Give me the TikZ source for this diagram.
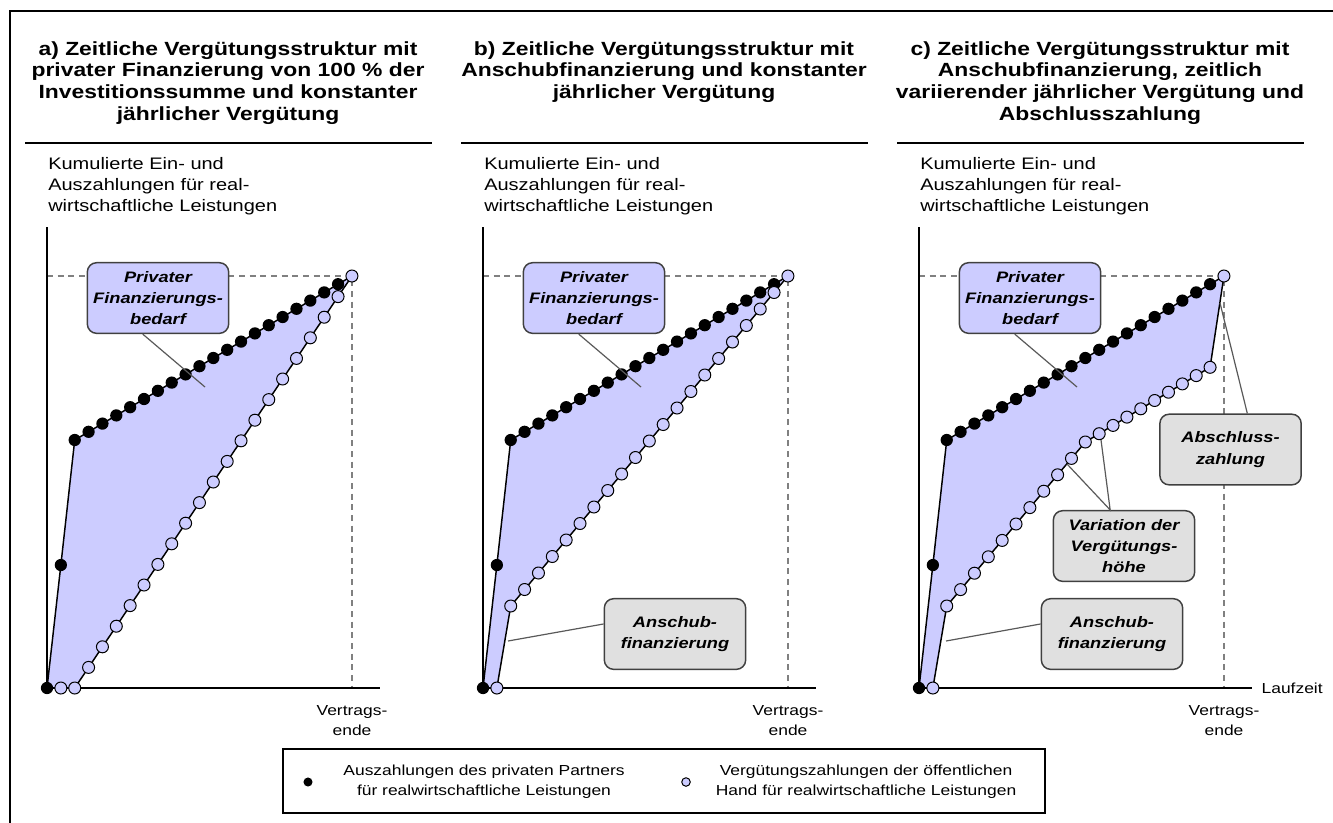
\documentclass[tikz,border=0pt]{standalone}
\usepackage{fontspec}
\setmainfont{Liberation Sans}[FakeStretch=1.2]
\usetikzlibrary{positioning}

\definecolor{areablue}{HTML}{CCCCFF}
\definecolor{boxgray}{HTML}{E0E0E0}
\definecolor{pointergray}{HTML}{595959}

\tikzset{
    axis/.style={line width=1.1pt},
    guide/.style={draw=gray, line width=0.9pt, dash pattern=on 4.5pt off 3.5pt},
    series/.style={line width=1.1pt},
    paydot/.style={fill=black},
    feedot/.style={draw=black, fill=areablue, line width=0.75pt},
    callout/.style={draw=black!75, line width=1.1pt, rounded corners=7pt,
        minimum width=106pt, minimum height=53pt, inner sep=1pt, align=center,
        font=\fontsize{11.4}{16}\selectfont\bfseries\itshape},
    pointer/.style={draw=pointergray, line width=0.9pt},
    paneltitle/.style={anchor=north, align=center, inner sep=0pt,
        font=\fontsize{14.3}{16.3}\selectfont\bfseries},
    ylabel/.style={anchor=north west, align=left, inner sep=0pt,
        font=\fontsize{12.5}{15.75}\selectfont},
    axislabel/.style={align=center, inner sep=0pt, font=\fontsize{10.9}{15}\selectfont},
    legendtext/.style={align=center, inner sep=0pt, font=\fontsize{10.9}{15}\selectfont}
}

\newcommand{\yearstep}{13.86}
\newcommand{\panelframe}[2]{
    % Title with rule below
    \node[paneltitle] (title#1) at (181,647) {#2};
    \draw[line width=1.1pt] (-22,545) -- (385,545);
    % Label of the vertical axis
    \node[ylabel] (ylabel#1) at (1,531) {Kumulierte Ein- und\\Auszahlungen für real-\\wirtschaftliche Leistungen};
    % Guide lines to the end of the contract
    \draw[guide] (0,412) -- (305,412) -- (305,0);
    \node[axislabel, anchor=north] (end#1) at (305,-17) {Vertrags-\\ende};
}
\newcommand{\panelaxes}[1]{
    \coordinate (top#1) at (0,461);
    \coordinate (origin#1) at (0,0);
    \coordinate (xend#1) at (333,0);
    \draw[axis] (top#1) -- (origin#1) -- (xend#1);
}
\newcommand{\payments}{
    % Payments of the private partner
    \draw[series] (0,0) -- (\yearstep,123) -- (2*\yearstep,248) -- (22*\yearstep,412);
    \fill[paydot] (0,0) circle (4.6pt) (\yearstep,123) circle (4.6pt);
    \foreach \t in {2, ..., 21}
        \fill[paydot] ({\t*\yearstep},{248+8.2*(\t-2)}) circle (4.6pt);
}

\begin{document}
\begin{tikzpicture}[x=0.75pt, y=-0.75pt]
    \useasboundingbox (0,0) rectangle (1333,822);

    % Outer frame
    \draw[line width=1.6pt] (10,830) -- (10,11) -- (1340,11);

    % a) full private financing, constant fee
    \begin{scope}[shift={(47,688)}, yscale=-1]
        \panelframe{A}{a) Zeitliche Vergütungsstruktur mit\\privater Finanzierung von 100 \% der\\Investitionssumme und konstanter\\jährlicher Vergütung};
        \fill[areablue] (0,0) -- (\yearstep,123) -- (2*\yearstep,248) -- (22*\yearstep,412) -- (2*\yearstep,0) -- cycle;
        \panelaxes{A}
        \draw[series] (0,0) -- (2*\yearstep,0) -- (22*\yearstep,412);
        \payments
        \foreach \t in {1, 2}
            \filldraw[feedot] (\t*\yearstep,0) circle (4.5pt);
        \foreach \t in {3, ..., 22}
            \filldraw[feedot] ({\t*\yearstep},{20.6*(\t-2)}) circle (4.5pt);
        \coordinate (gapA) at (158,301);
        \node[callout, fill=areablue] (bedarfA) at (111,390) {Privater\\Finanzierungs-\\bedarf};
        \draw[pointer] (bedarfA.-113) -- (gapA);
    \end{scope}

    % b) start-up financing, constant fee
    \begin{scope}[shift={(483,688)}, yscale=-1]
        \panelframe{B}{b) Zeitliche Vergütungsstruktur mit\\Anschubfinanzierung und konstanter\\jährlicher Vergütung};
        \fill[areablue] (0,0) -- (\yearstep,123) -- (2*\yearstep,248) -- (22*\yearstep,412) -- (2*\yearstep,82) -- (\yearstep,0) -- cycle;
        \panelaxes{B}
        \draw[series] (0,0) -- (\yearstep,0) -- (2*\yearstep,82) -- (22*\yearstep,412);
        \payments
        \filldraw[feedot] (\yearstep,0) circle (4.5pt);
        \foreach \t in {2, ..., 22}
            \filldraw[feedot] ({\t*\yearstep},{82+16.5*(\t-2)}) circle (4.5pt);
        \coordinate (gapB) at (158,301);
        \coordinate (startB) at (25,47);
        \node[callout, fill=areablue] (bedarfB) at (111,390) {Privater\\Finanzierungs-\\bedarf};
        \draw[pointer] (bedarfB.-113) -- (gapB);
        \node[callout, fill=boxgray] (anschubB) at (192,54) {Anschub-\\finanzierung};
        \draw[pointer] (anschubB.172) -- (startB);
    \end{scope}

    % c) start-up financing, varying fee and final payment
    \begin{scope}[shift={(919,688)}, yscale=-1]
        \panelframe{C}{c) Zeitliche Vergütungsstruktur mit\\Anschubfinanzierung, zeitlich\\variierender jährlicher Vergütung und\\Abschlusszahlung};
        \fill[areablue] (0,0) -- (\yearstep,123) -- (2*\yearstep,248) -- (22*\yearstep,412) -- (21*\yearstep,320.7) -- (12*\yearstep,246) -- (2*\yearstep,82) -- (\yearstep,0) -- cycle;
        \panelaxes{C}
        \node[axislabel, anchor=west, right=7pt of xendC] (laufzeit) {Laufzeit};
        \draw[series] (0,0) -- (\yearstep,0) -- (2*\yearstep,82) -- (12*\yearstep,246) -- (21*\yearstep,320.7) -- (22*\yearstep,412);
        \payments
        \filldraw[feedot] (\yearstep,0) circle (4.5pt);
        \foreach \t in {2, ..., 12}
            \filldraw[feedot] ({\t*\yearstep},{82+16.4*(\t-2)}) circle (4.5pt);
        \foreach \t in {13, ..., 21}
            \filldraw[feedot] ({\t*\yearstep},{246+8.3*(\t-12)}) circle (4.5pt);
        \filldraw[feedot] (22*\yearstep,412) circle (4.5pt);
        \coordinate (gapC) at (158,301);
        \coordinate (startC) at (27,47);
        \coordinate (kinkC) at (182,248);
        \coordinate (slopeC) at (148,224);
        \coordinate (finalC) at (301,385);
        \node[callout, fill=areablue] (bedarfC) at (111,390) {Privater\\Finanzierungs-\\bedarf};
        \draw[pointer] (bedarfC.-113) -- (gapC);
        \node[callout, fill=boxgray] (anschubC) at (193,54) {Anschub-\\finanzierung};
        \draw[pointer] (anschubC.172) -- (startC);
        \node[callout, fill=boxgray] (variationC) at (205,142) {Variation der\\Vergütungs-\\höhe};
        \draw[pointer] (kinkC) -- (variationC.111) -- (slopeC);
        \node[callout, fill=boxgray] (abschlussC) at (311.5,238.5) {Abschluss-\\zahlung};
        \draw[pointer] (abschlussC.65) -- (finalC);
    \end{scope}

    % Legend
    \draw[line width=1.5pt] (283,749) rectangle (1045,813);
    \node[legendtext] (paylegend) at (484,782) {Auszahlungen des privaten Partners\\für realwirtschaftliche Leistungen};
    \node[legendtext] (feelegend) at (866,782) {Vergütungszahlungen der öffentlichen\\Hand für realwirtschaftliche Leistungen};
    \fill[paydot] (308,782) circle (3.4pt);
    \filldraw[feedot] (686,782) circle (3.2pt);
\end{tikzpicture}
\end{document}
